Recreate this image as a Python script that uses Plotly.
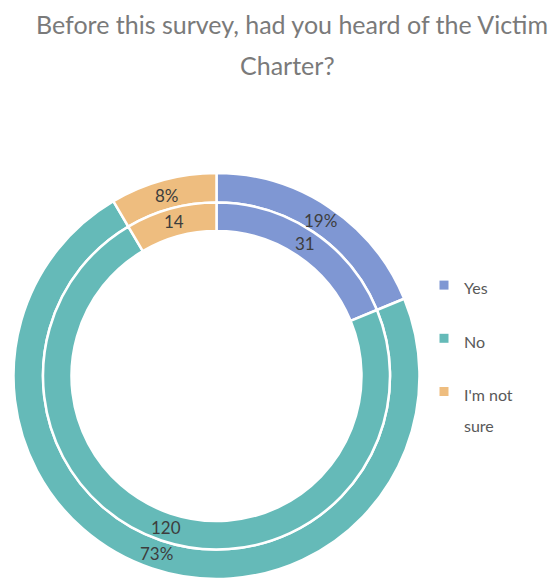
import math
import plotly.graph_objects as go

# Survey responses
categories = ["Yes", "No", "I'm not sure"]
counts = [31, 120, 14]
colors = ["#7F97D3", "#65BAB8", "#EEBD7F"]

title_line1 = "Before this survey, had you heard of the Victim"
title_line2 = "Charter?"

W, H = 554, 579
FONT = "Lato, 'Noto Sans', sans-serif"
LABEL_COLOR = "#3d3d3d"
TITLE_COLOR = "#7a7a7a"


def domain_for(cx, cy, r):
    """Paper-domain box for a pie of radius r centred at pixel (cx, cy) from top-left."""
    return dict(
        x=[max(0, (cx - r) / W), min(1, (cx + r) / W)],
        y=[max(0, (H - cy - r) / H), min(1, (H - cy + r) / H)],
    )


# Ring geometry in pixels
cx, cy = 216.5, 376
r_outer, r_mid, r_inner = 203, 173.5, 145
STROKE = 2.5

fig = go.Figure()

# Outer ring: percentages
fig.add_trace(go.Pie(
    labels=categories, values=counts, sort=False, direction="clockwise",
    rotation=0, hole=r_mid / r_outer, domain=domain_for(cx, cy, r_outer),
    marker=dict(colors=colors, line=dict(color="white", width=STROKE)),
    textinfo="none", showlegend=False, hoverinfo="label+percent",
))

# Inner ring: counts
fig.add_trace(go.Pie(
    labels=categories, values=counts, sort=False, direction="clockwise",
    rotation=0, hole=r_inner / r_mid, domain=domain_for(cx, cy, r_mid),
    marker=dict(colors=colors, line=dict(color="white", width=STROKE)),
    textinfo="none", showlegend=False, hoverinfo="label+value",
))

# Data labels placed at the middle of each slice, in the middle of each ring
total = sum(counts)
cum = 0
r_text_outer = (r_outer - STROKE / 2 + r_mid) / 2
r_text_inner = (r_mid + r_inner + STROKE / 2) / 2
for v in counts:
    theta = 2 * math.pi * (cum + v / 2) / total
    cum += v
    pct = f"{round(100 * v / total)}%"
    for r_txt, txt in ((r_text_outer, pct), (r_text_inner, str(v))):
        px = cx + r_txt * math.sin(theta)
        py = cy - r_txt * math.cos(theta)
        fig.add_annotation(
            text=txt, x=px / W, y=1 - py / H, xref="paper", yref="paper",
            xanchor="center", yanchor="middle", showarrow=False,
            font=dict(family=FONT, size=17, color=LABEL_COLOR),
        )

# Legend entries (one group per category so spacing can be set)
legend_names = ["Yes", "No", "I'm not<br>sure"]
for name, col in zip(legend_names, colors):
    fig.add_trace(go.Scatter(
        x=[None], y=[None], mode="markers",
        name=f'<span style="font-size:16px">{name}</span>',
        legendgroup=name, marker=dict(symbol="square", size=9, color=col),
        hoverinfo="skip",
    ))

fig.update_xaxes(visible=False)
fig.update_yaxes(visible=False)

fig.add_annotation(text=title_line1, xref="paper", yref="paper",
                   x=292 / W, y=1 - 24 / H, xanchor="center", yanchor="middle",
                   showarrow=False, font=dict(family=FONT, size=25, color=TITLE_COLOR))
fig.add_annotation(text=title_line2, xref="paper", yref="paper",
                   x=287 / W, y=1 - 65 / H, xanchor="center", yanchor="middle",
                   showarrow=False, font=dict(family=FONT, size=25, color=TITLE_COLOR))

fig.update_layout(
    width=W, height=H,
    margin=dict(l=0, r=0, t=0, b=0),
    paper_bgcolor="white", plot_bgcolor="white",
    legend=dict(
        x=424 / W, y=1 - 263 / H, xanchor="left", yanchor="top",
        font=dict(family=FONT, size=24, color="#595959"),
        tracegroupgap=19, valign="top", bgcolor="rgba(0,0,0,0)",
    ),
)

fig.write_html("out.html")
